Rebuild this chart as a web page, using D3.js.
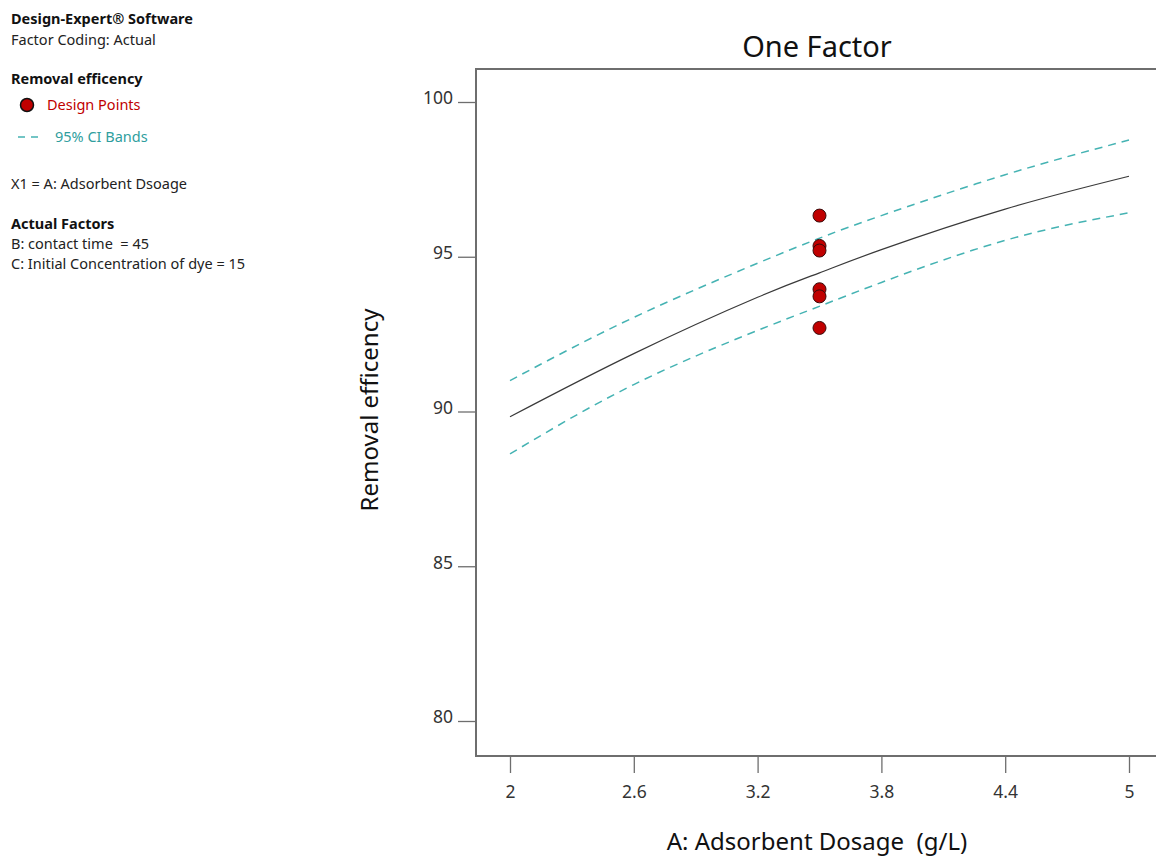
<!DOCTYPE html>
<html>
<head>
<meta charset="utf-8">
<script src="https://cdn.jsdelivr.net/npm/d3@7"></script>
<style>
  html, body { margin: 0; padding: 0; background: #fff; }
  svg { display: block; font-family: "Noto Sans", "Open Sans", sans-serif; }
</style>
</head>
<body>
<svg id="chart" width="1156" height="859"></svg>
<script>
// Adsorbent dosage (g/L) where the model curve was evaluated
const dosage = [2, 2.6, 3.2, 3.5, 3.8, 4.4, 5];
// Predicted removal efficiency and 95% CI limits
const predicted = [89.83, 91.87, 93.69, 94.48, 95.23, 96.54, 97.6];
const ciUpper   = [91.0, 93.04, 94.79, 95.6, 96.33, 97.65, 98.77];
const ciLower   = [88.63, 90.87, 92.62, 93.4, 94.17, 95.53, 96.42];
// Design points (all at centre dosage)
const pointDosage = [3.5, 3.5, 3.5, 3.5, 3.5, 3.5];
const pointValues = [96.33, 95.35, 95.2, 93.95, 93.72, 92.7];
// Axis ticks
const xTicks = [2, 2.6, 3.2, 3.8, 4.4, 5];
const yTicks = [80, 85, 90, 95, 100];

const svg = d3.select("#chart");
const teal = "#45b3b3";
const red = "#c00000";
const font = '"Noto Sans", "Open Sans", sans-serif';

const x = d3.scaleLinear().domain([2, 5]).range([510, 1129]);
const y = d3.scaleLinear().domain([80, 100]).range([721, 102]);

const frame = { left: 476, top: 69, bottom: 756, right: 1160 };

// Plot frame
svg.append("path")
  .attr("d", `M${frame.right},${frame.top}H${frame.left}V${frame.bottom}H${frame.right}`)
  .attr("fill", "none").attr("stroke", "#6e6e6e").attr("stroke-width", 2);

// Axes
const xAxis = svg.append("g")
  .attr("transform", `translate(0,${frame.bottom})`)
  .call(d3.axisBottom(x).tickValues(xTicks).tickSize(17).tickPadding(13).tickFormat(d3.format("")));
const yAxis = svg.append("g")
  .attr("transform", `translate(${frame.left},0)`)
  .call(d3.axisLeft(y).tickValues(yTicks).tickSize(18).tickPadding(5).tickFormat(d3.format("")));
[xAxis, yAxis].forEach(g => {
  g.select(".domain").remove();
  g.selectAll(".tick line").attr("stroke", "#6e6e6e").attr("stroke-width", 1.3);
  g.selectAll(".tick text").attr("fill", "#333").style("font-size", "17.5px")
    .style("font-family", font);
});
yAxis.selectAll(".tick text").attr("dy", "0.1em");

// Curves
const line = (vals) => d3.line()
  .x((d, i) => x(dosage[i]))
  .y(d => y(d))
  .curve(d3.curveNatural)(vals);

svg.append("path").attr("d", line(ciUpper))
  .attr("fill", "none").attr("stroke", teal).attr("stroke-width", 1.5)
  .attr("stroke-dasharray", "8,6");
svg.append("path").attr("d", line(ciLower))
  .attr("fill", "none").attr("stroke", teal).attr("stroke-width", 1.5)
  .attr("stroke-dasharray", "8,6");
svg.append("path").attr("d", line(predicted))
  .attr("fill", "none").attr("stroke", "#3a3a3a").attr("stroke-width", 1.2);

// Design points
svg.append("g").selectAll("circle")
  .data(pointValues)
  .join("circle")
  .attr("cx", (d, i) => x(pointDosage[i]))
  .attr("cy", d => y(d))
  .attr("r", 6.5)
  .attr("fill", red)
  .attr("stroke", "#3a0a0a")
  .attr("stroke-width", 1);

// Titles
svg.append("text").attr("x", 817).attr("y", 57).attr("text-anchor", "middle")
  .style("font-size", "29px").attr("fill", "#111").text("One Factor");
svg.append("text").attr("x", 817).attr("y", 850).attr("text-anchor", "middle")
  .style("font-size", "24px").attr("fill", "#111").attr("xml:space", "preserve")
  .text("A: Adsorbent Dosage  (g/L)");
svg.append("text")
  .attr("transform", "translate(378,410) rotate(-90)")
  .attr("text-anchor", "middle")
  .style("font-size", "24px").attr("fill", "#111").text("Removal efficency");

// Side legend / info block
const info = svg.append("g").style("font-size", "14.5px");
const t = (yy, txt, opts = {}) => info.append("text")
  .attr("x", opts.x || 11).attr("y", yy)
  .attr("fill", opts.fill || "#222")
  .style("font-weight", opts.bold ? "700" : "400")
  .attr("xml:space", "preserve")
  .text(txt);

t(24, "Design-Expert® Software", { bold: true, fill: "#111" });
t(45, "Factor Coding: Actual");
t(84, "Removal efficency", { bold: true, fill: "#111" });
info.append("circle").attr("cx", 27).attr("cy", 105).attr("r", 6.5)
  .attr("fill", red).attr("stroke", "#111").attr("stroke-width", 1.5);
t(110, "Design Points", { x: 47, fill: red });
info.append("line").attr("x1", 18).attr("x2", 42).attr("y1", 137).attr("y2", 137)
  .attr("stroke", teal).attr("stroke-width", 1.5).attr("stroke-dasharray", "7,6");
t(142, "95% CI Bands", { x: 55, fill: "#2f9e9e" });
t(189, "X1 = A: Adsorbent Dsoage");
t(229, "Actual Factors", { bold: true, fill: "#111" });
t(249, "B: contact time  = 45");
t(269, "C: Initial Concentration of dye = 15");
</script>
</body>
</html>
